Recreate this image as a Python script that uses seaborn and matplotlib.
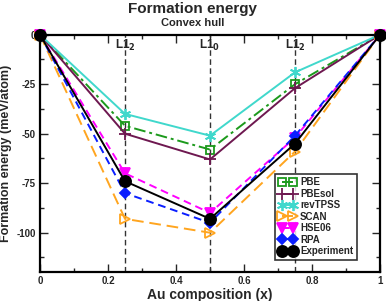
import matplotlib
matplotlib.use("Agg")
import matplotlib.pyplot as plt
import seaborn as sns
import pandas as pd
from matplotlib.ticker import MultipleLocator, FixedLocator

# Au composition
x_au = [0.0, 0.25, 0.5, 0.75, 1.0]

# formation energies (meV/atom)
pbe = [0, -46, -58, -25, 0]
pbesol = [0, -50, -63, -27, 0]
revtpss = [0, -40, -51, -19, 0]
scan = [0, -93, -100, -59, 0]
hse06 = [0, -70, -90, -52, 0]
rpa = [0, -80, -95, -51, 0]
experiment = [0, -74, -93, -55, 0]

methods = ["PBE", "PBEsol", "revTPSS", "SCAN", "HSE06", "RPA", "Experiment"]
energies = [pbe, pbesol, revtpss, scan, hse06, rpa, experiment]

phase_x = [0.25, 0.5, 0.75]
phase_labels = [r"L1$_2$", r"L1$_0$", r"L1$_2$"]

styles = {
    "PBE": dict(color="#1c9a1c", ls=(0, (6, 2, 1.5, 2)), marker="s", mfc="none", ms=6),
    "PBEsol": dict(color="#6e1850", ls="-", marker="+", mfc="#6e1850", ms=9),
    "revTPSS": dict(color="#40d8cc", ls="-", marker=(6, 2, 0), mfc="#40d8cc", ms=8),
    "SCAN": dict(color="#ffa51f", ls=(0, (6, 3)), marker=">", mfc="none", ms=7),
    "HSE06": dict(color="#ff00ff", ls=(0, (4, 2.5)), marker="v", mfc="#ff00ff", ms=7),
    "RPA": dict(color="#0a1eff", ls=(0, (4, 2.5)), marker="D", mfc="#0a1eff", ms=5.5),
    "Experiment": dict(color="black", ls="-", marker="o", mfc="black", ms=8),
}

rows = []
for m, e in zip(methods, energies):
    for xi, yi in zip(x_au, e):
        rows.append({"method": m, "x": xi, "E": yi})
df = pd.DataFrame(rows)

sns.set_theme(style="ticks")
plt.rcParams["font.family"] = ["Liberation Sans", "DejaVu Sans"]
plt.rcParams["font.weight"] = "bold"
plt.rcParams["mathtext.default"] = "bf"

fig = plt.figure(figsize=(3.86, 3.01), dpi=100)
ax = fig.add_axes([0.1036, 0.0953, 0.8809, 0.7894])

for xv in phase_x:
    ax.axvline(xv, color="#333333", ls=(0, (4, 2.5)), lw=1.0, zorder=1)

for m in methods:
    st = styles[m]
    sub = df[df["method"] == m]
    sns.lineplot(data=sub, x="x", y="E", ax=ax, label=m, color=st["color"],
                 linestyle=st["ls"], lw=1.4, marker=st["marker"],
                 markersize=st["ms"], markerfacecolor=st["mfc"],
                 markeredgecolor=st["color"], markeredgewidth=1.3,
                 clip_on=False, zorder=3, estimator=None, sort=False)

for xv, lab in zip(phase_x, phase_labels):
    ax.text(xv, -5.5, lab, ha="center", va="center", fontsize=8.5,
            fontweight="bold", zorder=2)

ax.set_xlim(0, 1)
ax.set_ylim(-120, 0)
ax.xaxis.set_major_locator(FixedLocator([0, 0.2, 0.4, 0.6, 0.8, 1.0]))
ax.xaxis.set_minor_locator(MultipleLocator(0.1))
ax.yaxis.set_major_locator(FixedLocator([0, -25, -50, -75, -100]))
ax.yaxis.set_minor_locator(MultipleLocator(12.5))
ax.set_xticklabels(["0", "0.2", "0.4", "0.6", "0.8", "1"])
ax.set_yticklabels(["0", "-25", "-50", "-75", "-100"])
ax.tick_params(which="both", direction="in", top=True, right=True,
               labelsize=7, width=1.0, pad=3)
ax.tick_params(which="major", length=6)
ax.tick_params(which="minor", length=3)
for lab in ax.get_xticklabels() + ax.get_yticklabels():
    lab.set_fontweight("bold")
for sp in ax.spines.values():
    sp.set_linewidth(1.6)
    sp.set_color("black")

ax.set_xlabel("Au composition (x)", fontsize=10, fontweight="bold", labelpad=1)
ax.set_ylabel("Formation energy (meV/atom)", fontsize=9, fontweight="bold")
ax.yaxis.set_label_coords(-0.082, 0.5)

fig.text(0.5, 0.97, "Formation energy", ha="center", va="center",
         fontsize=11, fontweight="bold")
fig.text(0.5, 0.922, "Convex hull", ha="center", va="center",
         fontsize=8, fontweight="bold")

leg = ax.legend(loc="lower right", bbox_to_anchor=(0.947, 0.031), numpoints=2,
                fontsize=7, frameon=True, fancybox=False, handlelength=1.8,
                handletextpad=0.4, borderpad=0.4, labelspacing=0.15)
leg.get_frame().set_edgecolor("black")
leg.get_frame().set_linewidth(1.2)
for t in leg.get_texts():
    t.set_fontweight("bold")

fig.savefig("out.png", dpi=100)
